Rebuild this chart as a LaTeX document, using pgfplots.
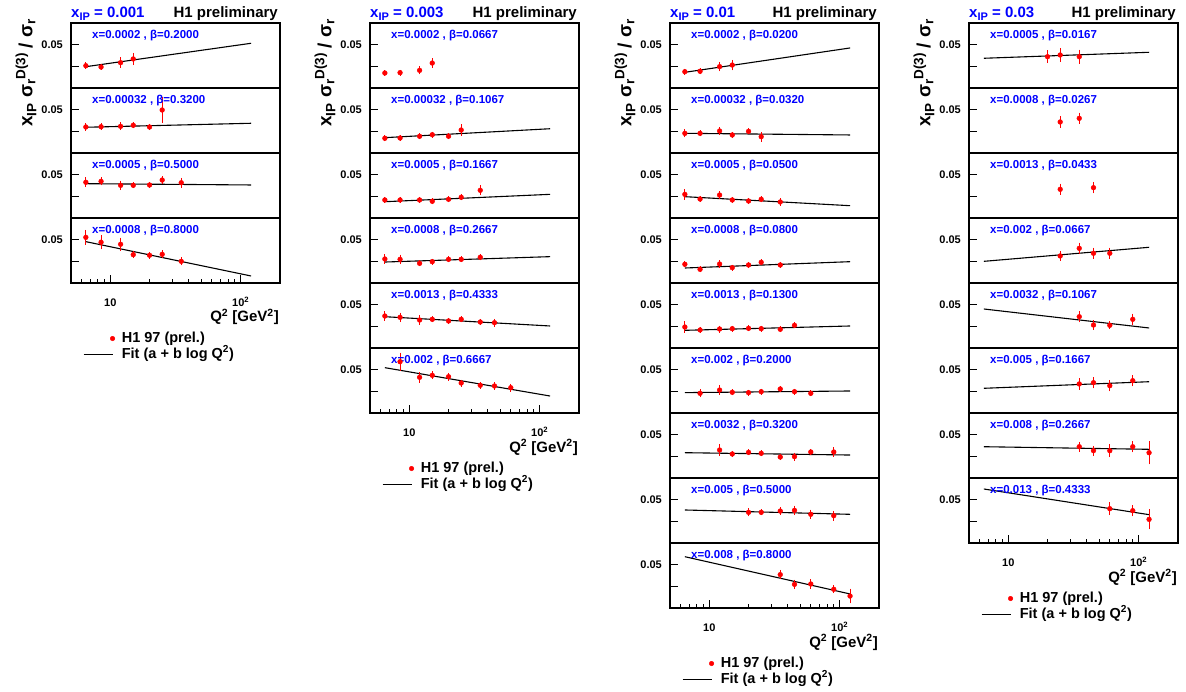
\documentclass[border=0pt]{standalone}
\usepackage{pgfplots}
\pgfplotsset{compat=1.18}
\usepackage{fontspec}
\setmainfont{Liberation Sans}
\newcommand{\fs}[1]{\bfseries\fontsize{#1}{#1}\selectfont}
\definecolor{rootblue}{RGB}{0,0,255}
\definecolor{rootred}{RGB}{255,0,0}
\pgfplotsset{
  /pgfplots/hdat/.style={only marks, mark=*, mark size=2.4pt, color=rootred,
    mark options={fill=rootred, draw=rootred},
    error bars/y dir=both, error bars/y explicit,
    error bars/error bar style={line width=1pt, rootred},
    error bars/error mark options={rootred, mark size=2.2pt, line width=1pt},
    legend image code/.code={\path[draw=none, fill=none] (0pt,0pt) -- (29pt,0pt);
      \path[draw=none, fill=none, mark=*, mark size=2.3pt, mark options={fill=rootred, draw=rootred}] plot coordinates {(29pt,0pt)};}},
  /pgfplots/hfit/.style={black, line width=1.1pt, no marks,
    legend image code/.code={\draw[black, line width=1.1pt] (0pt,0pt) -- (29pt,0pt);}},
}
\newcommand{\PB}[2]{\begin{axis}[scale only axis, width=209pt, height=65pt,
    xmode=log, xmin=5, xmax=200, ymin=0, ymax=0.075,
    anchor=north west, at={(#1pt,-#2pt)},
    axis line style={line width=1.8pt},
    scaled y ticks=false,
    ytick={0.025,0.05}, yticklabels={,0.05}, ytick pos=left,
    xtick=\empty, tick align=inside,
    major tick length=8pt, minor tick length=4pt,
    tick style={line width=0.9pt, black},
    yticklabel style={font=\fs{11}, anchor=east, inner sep=0pt, xshift=-8pt}]}
\newcommand{\BB}[2]{\begin{axis}[scale only axis, width=209pt, height=65pt,
    xmode=log, xmin=5, xmax=200, ymin=0, ymax=0.075,
    anchor=north west, at={(#1pt,-#2pt)},
    axis line style={line width=1.8pt},
    scaled y ticks=false,
    ytick={0.025,0.05}, yticklabels={,0.05}, ytick pos=left,
    tick align=inside,
    major tick length=8pt, minor tick length=4pt,
    tick style={line width=0.9pt, black},
    yticklabel style={font=\fs{11}, anchor=east, inner sep=0pt, xshift=-8pt},
    xtick={10,100}, xticklabels={10,10\textsuperscript{2}},
    minor xtick={6,7,8,9,20,30,40,50,60,70,80,90},
    xtick pos=bottom,
    xticklabel style={font=\fs{11}, anchor=base, inner sep=0pt, yshift=-23pt},
    reverse legend, legend cell align=left,
    legend style={draw=none, fill=none, at={(0.0574,-0.731)}, anchor=north west,
      inner sep=0pt, outer sep=0pt, font=\fs{14.5}, column sep=7pt, row sep=0pt,
      nodes={inner sep=0pt, text height=11.5pt, text depth=4.5pt}}]}
\newcommand{\plabel}[2]{\node[anchor=west, inner sep=0pt, text=rootblue, font=\fs{11.5}] at (rel axis cs:0.1005,0.8) {x=#1 , β=#2};}
\newcommand{\colstuff}[3]{%
  \node[anchor=base west, inner sep=0pt, text=rootblue, font=\fs{15}] at (#1pt,-17.3pt) {x\raisebox{-3.5pt}{\fs{11}IP} = #3};
  \node[anchor=base east, inner sep=0pt, font=\fs{15}] at ({#1pt+207pt},-17.3pt) {H1 preliminary};
  \node[rotate=90, inner sep=0pt, font=\fs{19}] at ({#1pt-45pt},-73pt) {x\raisebox{-4pt}{\fs{13.5}IP} σ\raisebox{-3pt}{\fs{13.5}r}\raisebox{7pt}{\fs{13.5}D(3)} / σ\raisebox{-3pt}{\fs{13.5}r}};
  \node[anchor=base east, inner sep=0pt, font=\fs{15}] at ({#1pt+208pt},{-#2pt-39pt}) {Q\textsuperscript{2} [GeV\textsuperscript{2}]};
}
\begin{document}
\begin{tikzpicture}
\path[use as bounding box] (0pt,0pt) rectangle (1186pt,-692pt);
% ================= Column 1 : x_IP = 0.001 =================
\PB{71}{23}
\addplot[hfit] coordinates {(6.5,0.0246) (120,0.0516)};
\addplot[hdat] coordinates {(6.5,0.0257) +- (0,0.0012) (8.5,0.0242) +- (0,0.0008) (12,0.0292) +- (0,0.0035) (15,0.0335) +- (0,0.0045)};
\plabel{0.0002}{0.2000}
\end{axis}
\PB{71}{88}
\addplot[hfit] coordinates {(6.5,0.0297) (120,0.0343)};
\addplot[hdat] coordinates {(6.5,0.0300) +- (0,0.002) (8.5,0.0303) +- (0,0.0015) (12,0.0308) +- (0,0.002) (15,0.0320) +- (0,0.001) (20,0.0300) +- (0,0.001) (25,0.0496) +- (0,0.0119)};
\plabel{0.00032}{0.3200}
\end{axis}
\PB{71}{153}
\addplot[hfit] coordinates {(6.5,0.0396) (120,0.0381)};
\addplot[hdat] coordinates {(6.5,0.0412) +- (0,0.003) (8.5,0.0423) +- (0,0.002) (12,0.0377) +- (0,0.003) (15,0.0377) +- (0,0.001) (20,0.0381) +- (0,0.001) (25,0.0438) +- (0,0.002) (35,0.0407) +- (0,0.003)};
\plabel{0.0005}{0.5000}
\end{axis}
\BB{71}{218}
\addplot[hfit] coordinates {(6.5,0.0477) (120,0.0081)};
\addplot[hdat] coordinates {(6.5,0.0527) +- (0,0.006) (8.5,0.0470) +- (0,0.0058) (12,0.0447) +- (0,0.005) (15,0.0327) +- (0,0.0015) (20,0.0320) +- (0,0.0015) (25,0.0331) +- (0,0.002) (35,0.0250) +- (0,0.002)};
\plabel{0.0008}{0.8000}
\legend{Fit (a + b log Q\textsuperscript{2}), H1 97 (prel.)}
\end{axis}
\colstuff{71}{283}{0.001}
% ================= Column 2 : x_IP = 0.003 =================
\PB{370}{23}
\addplot[hdat] coordinates {(6.5,0.0173) +- (0,0.0008) (8.5,0.0177) +- (0,0.0008) (12,0.0204) +- (0,0.0022) (15,0.0288) +- (0,0.0028)};
\plabel{0.0002}{0.0667}
\end{axis}
\PB{370}{88}
\addplot[hfit] coordinates {(6.5,0.0177) (120,0.0280)};
\addplot[hdat] coordinates {(6.5,0.0170) +- (0,0.001) (8.5,0.0173) +- (0,0.001) (12,0.0193) +- (0,0.001) (15,0.0211) +- (0,0.001) (20,0.0193) +- (0,0.001) (25,0.0265) +- (0,0.004)};
\plabel{0.00032}{0.1067}
\end{axis}
\PB{370}{153}
\addplot[hfit] coordinates {(6.5,0.0188) (120,0.0273)};
\addplot[hdat] coordinates {(6.5,0.0208) +- (0,0.001) (8.5,0.0208) +- (0,0.001) (12,0.0208) +- (0,0.001) (15,0.0193) +- (0,0.001) (20,0.0216) +- (0,0.001) (25,0.0239) +- (0,0.001) (35,0.0320) +- (0,0.003)};
\plabel{0.0005}{0.1667}
\end{axis}
\PB{370}{218}
\addplot[hfit] coordinates {(6.5,0.0242) (120,0.0304)};
\addplot[hdat] coordinates {(6.5,0.0277) +- (0,0.003) (8.5,0.0273) +- (0,0.003) (12,0.0227) +- (0,0.001) (15,0.0246) +- (0,0.001) (20,0.0273) +- (0,0.001) (25,0.0273) +- (0,0.001) (35,0.0297) +- (0,0.001)};
\plabel{0.0008}{0.2667}
\end{axis}
\PB{370}{283}
\addplot[hfit] coordinates {(6.5,0.0361) (120,0.0254)};
\addplot[hdat] coordinates {(6.5,0.0369) +- (0,0.003) (8.5,0.0354) +- (0,0.003) (12,0.0323) +- (0,0.003) (15,0.0331) +- (0,0.001) (20,0.0312) +- (0,0.001) (25,0.0331) +- (0,0.001) (35,0.0300) +- (0,0.001) (45,0.0292) +- (0,0.002)};
\plabel{0.0013}{0.4333}
\end{axis}
\BB{370}{348}
\addplot[hfit] coordinates {(6.5,0.0523) (120,0.0196)};
\addplot[hdat] coordinates {(8.5,0.0592) +- (0,0.008) (12,0.0412) +- (0,0.0035) (15,0.0435) +- (0,0.002) (20,0.0419) +- (0,0.002) (25,0.0346) +- (0,0.0015) (35,0.0320) +- (0,0.0012) (45,0.0312) +- (0,0.002) (60,0.0292) +- (0,0.002)};
\plabel{0.002}{0.6667}
\legend{Fit (a + b log Q\textsuperscript{2}), H1 97 (prel.)}
\end{axis}
\colstuff{370}{413}{0.003}
% ================= Column 3 : x_IP = 0.01 =================
\PB{670}{23}
\addplot[hfit] coordinates {(6.5,0.0181) (120,0.0462)};
\addplot[hdat] coordinates {(6.5,0.0188) +- (0,0.001) (8.5,0.0193) +- (0,0.001) (12,0.0246) +- (0,0.003) (15,0.0265) +- (0,0.0035)};
\plabel{0.0002}{0.0200}
\end{axis}
\PB{670}{88}
\addplot[hfit] coordinates {(6.5,0.0227) (120,0.0208)};
\addplot[hdat] coordinates {(6.5,0.0227) +- (0,0.002) (8.5,0.0227) +- (0,0.001) (12,0.0254) +- (0,0.002) (15,0.0208) +- (0,0.001) (20,0.0250) +- (0,0.001) (25,0.0188) +- (0,0.003)};
\plabel{0.00032}{0.0320}
\end{axis}
\PB{670}{153}
\addplot[hfit] coordinates {(6.5,0.0246) (120,0.0142)};
\addplot[hdat] coordinates {(6.5,0.0273) +- (0,0.0035) (8.5,0.0219) +- (0,0.001) (12,0.0265) +- (0,0.002) (15,0.0208) +- (0,0.001) (20,0.0196) +- (0,0.001) (25,0.0216) +- (0,0.001) (35,0.0185) +- (0,0.002)};
\plabel{0.0005}{0.0500}
\end{axis}
\PB{670}{218}
\addplot[hfit] coordinates {(6.5,0.0173) (120,0.0246)};
\addplot[hdat] coordinates {(6.5,0.0216) +- (0,0.001) (8.5,0.0158) +- (0,0.001) (12,0.0219) +- (0,0.002) (15,0.0177) +- (0,0.001) (20,0.0208) +- (0,0.001) (25,0.0239) +- (0,0.001) (35,0.0208) +- (0,0.001)};
\plabel{0.0008}{0.0800}
\end{axis}
\PB{670}{283}
\addplot[hfit] coordinates {(6.5,0.0204) (120,0.0254)};
\addplot[hdat] coordinates {(6.5,0.0242) +- (0,0.004) (8.5,0.0208) +- (0,0.001) (12,0.0219) +- (0,0.0015) (15,0.0223) +- (0,0.001) (20,0.0227) +- (0,0.001) (25,0.0223) +- (0,0.001) (35,0.0216) +- (0,0.001) (45,0.0262) +- (0,0.001)};
\plabel{0.0013}{0.1300}
\end{axis}
\PB{670}{348}
\addplot[hfit] coordinates {(6.5,0.0235) (120,0.0254)};
\addplot[hdat] coordinates {(8.5,0.0227) +- (0,0.002) (12,0.0265) +- (0,0.003) (15,0.0239) +- (0,0.001) (20,0.0235) +- (0,0.001) (25,0.0246) +- (0,0.001) (35,0.0277) +- (0,0.001) (45,0.0246) +- (0,0.001) (60,0.0227) +- (0,0.001)};
\plabel{0.002}{0.2000}
\end{axis}
\PB{670}{413}
\addplot[hfit] coordinates {(6.5,0.0292) (120,0.0265)};
\addplot[hdat] coordinates {(12,0.0323) +- (0,0.004) (15,0.0277) +- (0,0.001) (20,0.0296) +- (0,0.001) (25,0.0285) +- (0,0.001) (35,0.0242) +- (0,0.001) (45,0.0246) +- (0,0.002) (60,0.0300) +- (0,0.001) (90,0.0300) +- (0,0.003)};
\plabel{0.0032}{0.3200}
\end{axis}
\PB{670}{478}
\addplot[hfit] coordinates {(6.5,0.0381) (120,0.0331)};
\addplot[hdat] coordinates {(20,0.0354) +- (0,0.002) (25,0.0354) +- (0,0.001) (35,0.0369) +- (0,0.002) (45,0.0377) +- (0,0.003) (60,0.0331) +- (0,0.003) (90,0.0315) +- (0,0.003)};
\plabel{0.005}{0.5000}
\end{axis}
\BB{670}{543}
\addplot[hfit] coordinates {(6.5,0.0592) (120,0.0162)};
\addplot[hdat] coordinates {(35,0.0385) +- (0,0.003) (45,0.0273) +- (0,0.003) (60,0.0277) +- (0,0.003) (90,0.0216) +- (0,0.002) (120,0.0138) +- (0,0.006)};
\plabel{0.008}{0.8000}
\legend{Fit (a + b log Q\textsuperscript{2}), H1 97 (prel.)}
\end{axis}
\colstuff{670}{608}{0.01}
% ================= Column 4 : x_IP = 0.03 =================
\PB{969}{23}
\addplot[hfit] coordinates {(6.5,0.0343) (120,0.0412)};
\addplot[hdat] coordinates {(20,0.0361) +- (0,0.005) (25,0.0381) +- (0,0.005) (35,0.0361) +- (0,0.0055)};
\plabel{0.0005}{0.0167}
\end{axis}
\PB{969}{88}
\addplot[hdat] coordinates {(25,0.0358) +- (0,0.004) (35,0.0400) +- (0,0.004)};
\plabel{0.0008}{0.0267}
\end{axis}
\PB{969}{153}
\addplot[hdat] coordinates {(25,0.0331) +- (0,0.004) (45,0.0350) +- (0,0.004)};
\plabel{0.0013}{0.0433}
\end{axis}
\PB{969}{218}
\addplot[hfit] coordinates {(6.5,0.0250) (120,0.0412)};
\addplot[hdat] coordinates {(25,0.0312) +- (0,0.003) (35,0.0400) +- (0,0.004) (45,0.0343) +- (0,0.004) (60,0.0343) +- (0,0.004)};
\plabel{0.002}{0.0667}
\end{axis}
\PB{969}{283}
\addplot[hfit] coordinates {(6.5,0.0450) (120,0.0231)};
\addplot[hdat] coordinates {(35,0.0361) +- (0,0.004) (45,0.0265) +- (0,0.003) (60,0.0262) +- (0,0.002) (90,0.0331) +- (0,0.004)};
\plabel{0.0032}{0.1067}
\end{axis}
\PB{969}{348}
\addplot[hfit] coordinates {(6.5,0.0285) (120,0.0361)};
\addplot[hdat] coordinates {(35,0.0335) +- (0,0.004) (45,0.0350) +- (0,0.004) (60,0.0315) +- (0,0.004) (90,0.0373) +- (0,0.004)};
\plabel{0.005}{0.1667}
\end{axis}
\PB{969}{413}
\addplot[hfit] coordinates {(6.5,0.0361) (120,0.0331)};
\addplot[hdat] coordinates {(35,0.0361) +- (0,0.003) (45,0.0315) +- (0,0.003) (60,0.0315) +- (0,0.005) (90,0.0361) +- (0,0.004) (120,0.0292) +- (0,0.011)};
\plabel{0.008}{0.2667}
\end{axis}
\BB{969}{478}
\addplot[hfit] coordinates {(6.5,0.0623) (120,0.0327)};
\addplot[hdat] coordinates {(60,0.0396) +- (0,0.005) (90,0.0373) +- (0,0.004) (120,0.0273) +- (0,0.009)};
\plabel{0.013}{0.4333}
\legend{Fit (a + b log Q\textsuperscript{2}), H1 97 (prel.)}
\end{axis}
\colstuff{969}{543}{0.03}
\end{tikzpicture}
\end{document}
